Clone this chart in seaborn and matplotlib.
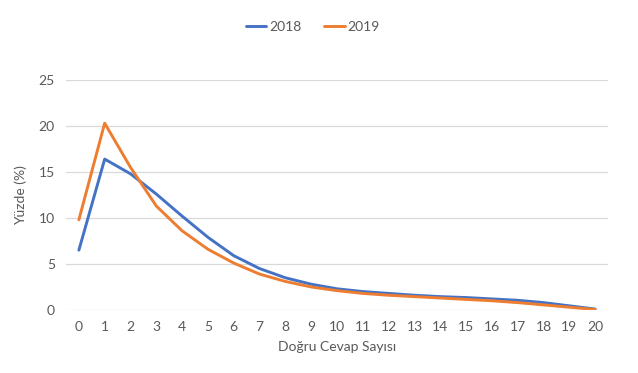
import matplotlib
matplotlib.use("Agg")
import matplotlib.pyplot as plt
import pandas as pd
import seaborn as sns

correct_answers = list(range(21))
pct_2018 = [6.5, 16.4, 14.8, 12.6, 10.2, 7.9, 5.9, 4.5, 3.5, 2.8, 2.3,
            2.0, 1.8, 1.6, 1.45, 1.35, 1.2, 1.05, 0.8, 0.45, 0.1]
pct_2019 = [9.8, 20.3, 15.5, 11.3, 8.6, 6.6, 5.1, 3.9, 3.1, 2.5, 2.1,
            1.8, 1.6, 1.45, 1.3, 1.15, 1.0, 0.8, 0.55, 0.3, 0.05]

df = pd.DataFrame({
    "Doğru Cevap Sayısı": correct_answers * 2,
    "Yüzde": pct_2018 + pct_2019,
    "Yıl": ["2018"] * 21 + ["2019"] * 21,
})

sns.set_theme(style="white")
plt.rcParams["font.family"] = ["Lato", "DejaVu Sans"]
text_color = "#595959"

fig = plt.figure(figsize=(6.38, 3.73), dpi=100)
ax = fig.add_axes([0.1034, 0.169, 0.8496, 0.6166])

sns.lineplot(data=df, x="Doğru Cevap Sayısı", y="Yüzde", hue="Yıl",
             palette={"2018": "#4472C4", "2019": "#ED7D31"},
             linewidth=2.1, ax=ax)

ax.set_xlim(-0.5, 20.5)
ax.set_ylim(0, 25)
ax.set_xticks(correct_answers)
ax.set_yticks([0, 5, 10, 15, 20, 25])
ax.yaxis.grid(True, color="#D9D9D9", linewidth=0.9)
ax.set_axisbelow(True)
for side in ["top", "right", "left", "bottom"]:
    ax.spines[side].set_visible(False)
ax.tick_params(axis="both", colors=text_color, labelsize=10, length=0, pad=8)
ax.set_xlabel("Doğru Cevap Sayısı", color=text_color, fontsize=10, labelpad=6)
ax.set_ylabel("Yüzde (%)", color=text_color, fontsize=10, labelpad=8)

leg = ax.legend(loc="center", bbox_to_anchor=(0.455, 1.23), ncol=2,
                frameon=False, fontsize=10, handlelength=1.5,
                columnspacing=1.6, handletextpad=0.2)
for t in leg.get_texts():
    t.set_color(text_color)

fig.savefig("out.png", dpi=100, facecolor="white")
